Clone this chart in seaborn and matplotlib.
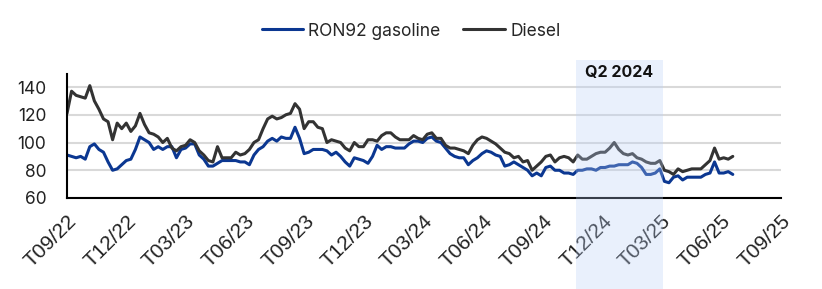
import numpy as np
import pandas as pd
import matplotlib
matplotlib.use("Agg")
import matplotlib.pyplot as plt
import matplotlib.dates as mdates
import matplotlib.transforms as mtrans
from matplotlib.patches import Rectangle
from matplotlib.lines import Line2D
import seaborn as sns

# ---------------- data (weekly readings) ----------------
start_date = "2022-09-01"
series_names = ["RON92 gasoline", "Diesel"]

diesel = [121, 137, 134, 133, 132, 141, 130, 124, 117, 115, 102, 114, 110, 114, 108, 112, 121, 113, 107, 106, 104, 100, 103, 96, 94, 97, 98,
          102, 100, 94, 91, 87, 86, 97, 89, 89, 89, 93, 91, 92, 95, 100, 102, 110, 117, 119, 117, 118, 120, 121, 128, 124, 110,
          115, 115, 111, 110, 100, 102, 101, 100, 96, 94, 100, 97, 97, 102, 102, 101, 105, 107, 107, 104, 102, 102, 102, 105, 103,
          102, 106, 107, 103, 103, 98, 96, 96, 95, 94, 92, 98, 102, 104, 103, 101, 99, 96, 93, 92, 89, 90, 86, 87, 80, 83, 86,
          90, 91, 86, 89, 90, 89, 86, 91, 88, 88, 90, 92, 93, 93, 96, 100, 95, 92, 91, 92, 89, 88, 86, 85, 85, 87, 80,
          79, 77, 81, 79, 80, 81, 81, 81, 84, 87, 96, 88, 89, 88, 90]

gasoline = [91, 90, 89, 90, 88, 97, 99, 95, 93, 86, 80, 81, 84, 87, 88, 95, 104, 102, 100, 95, 97, 95, 97, 97, 89, 95, 96,
            99, 99, 91, 88, 83, 83, 85, 87, 87, 87, 87, 86, 86, 84, 91, 95, 97, 101, 103, 101, 104, 103, 103, 111, 103, 92,
            93, 95, 95, 95, 94, 91, 93, 90, 86, 83, 89, 88, 87, 85, 90, 98, 95, 97, 97, 96, 96, 96, 99, 101, 101,
            100, 103, 104, 101, 100, 96, 92, 90, 89, 89, 84, 87, 89, 92, 94, 93, 91, 90, 83, 84, 86, 84, 82, 80, 76, 78, 76,
            82, 83, 80, 80, 78, 78, 77, 80, 80, 81, 81, 80, 82, 82, 83, 83, 84, 84, 84, 86, 85, 82, 77, 77, 78, 81, 72,
            71, 75, 76, 73, 75, 75, 75, 75, 77, 78, 86, 78, 78, 79, 77]

y_ticks = [60, 80, 100, 120, 140]
x_start, x_end = "2022-09-01", "2025-09-01"
shade_start, shade_end = "2024-10-21", "2025-03-04"
shade_label = "Q2 2024"

# ---------------- build frame ----------------
n = len(diesel)
dates = pd.date_range(start_date, periods=n, freq="7D")
df = pd.DataFrame({
    "date": list(dates) * 2,
    "value": gasoline + diesel,
    "series": [series_names[0]] * n + [series_names[1]] * n,
})

sns.set_style("white")
plt.rcParams["font.family"] = ["Inter", "DejaVu Sans"]

W, H = 822, 289
fig = plt.figure(figsize=(W / 100, H / 100), dpi=100)
ax = fig.add_axes([67 / W, 1 - 198 / H, (781 - 67) / W, 124 / H])

colors = {series_names[0]: "#0B3791", series_names[1]: "#333333"}
sns.lineplot(data=df, x="date", y="value", hue="series", palette=colors,
             linewidth=2.2, ax=ax, legend=False)

ax.set_xlim(pd.Timestamp(x_start), pd.Timestamp(x_end))
ax.set_ylim(60, 149.4)
ax.set_yticks(y_ticks)
ax.set_yticklabels([str(v) for v in y_ticks], fontsize=12.5, color="#222222")

xt = pd.date_range(x_start, x_end, freq="3MS")
ax.set_xticks(xt)
ax.set_xticklabels([d.strftime("T%m/%y") for d in xt], rotation=45, ha="right", va="top",
                   rotation_mode="anchor", fontsize=15,
                   fontfamily=["Liberation Sans", "DejaVu Sans"], color="#222222")
ax.set_xlabel("")
ax.set_ylabel("")

ax.tick_params(axis="x", direction="out", length=5, width=1.5, color="black", pad=5)
ax.tick_params(axis="y", length=0, pad=15)

ax.yaxis.grid(True, color="#D9D9D9", linewidth=1.5)
ax.xaxis.grid(False)
ax.set_axisbelow(True)
for s in ["top", "right"]:
    ax.spines[s].set_visible(False)
for s in ["left", "bottom"]:
    ax.spines[s].set_color("black")
    ax.spines[s].set_linewidth(1.5)

# shaded period (covers plot and tick labels)
trans = mtrans.blended_transform_factory(ax.transData, fig.transFigure)
x0 = mdates.date2num(pd.Timestamp(shade_start))
x1 = mdates.date2num(pd.Timestamp(shade_end))
rect = Rectangle((x0, 0), x1 - x0, 1 - 60 / H, transform=trans,
                 facecolor="#B9D0F8", alpha=0.3, edgecolor="none", zorder=10)
fig.add_artist(rect)
fig.text((x0 + x1) / 2, 1 - 73 / H, shade_label, transform=trans, ha="center", va="center",
         fontsize=11.5, fontweight="bold", color="#111111", zorder=11)

# legend
handles = [Line2D([], [], color=colors[s], linewidth=2.2) for s in series_names]
fig.legend(handles, series_names, loc="center", bbox_to_anchor=(0.5, 1 - 31 / H), ncol=2,
           frameon=False, fontsize=12.5, handlelength=2.4, handletextpad=0.3, columnspacing=1.3)

fig.savefig("out.png", dpi=100)
